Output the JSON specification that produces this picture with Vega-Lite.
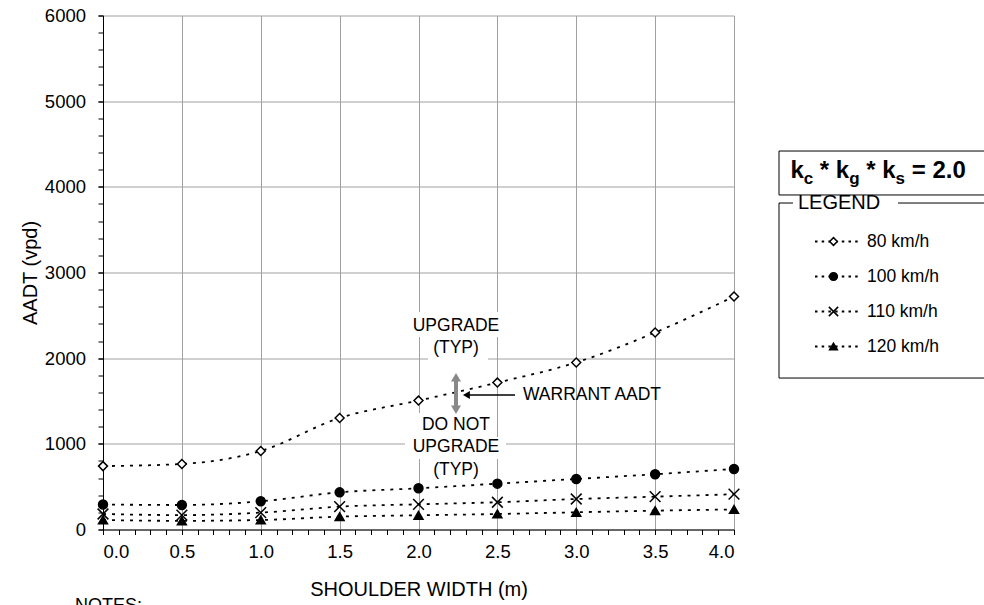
{
  "$schema": "https://vega.github.io/schema/vega-lite/v6.json",
  "width": 631,
  "height": 514,
  "autosize": {"type": "none"},
  "padding": {"left": 103, "top": 15.5, "right": 250, "bottom": 75.5},
  "background": "white",
  "config": {
    "view": {"stroke": null},
    "font": "Liberation Sans",
    "axis": {"labelColor": "black", "titleColor": "black", "tickColor": "black", "domainColor": "black", "gridColor": "#a0a0a0", "gridWidth": 1, "labelFont": "Liberation Sans", "titleFont": "Liberation Sans", "titleFontWeight": "normal"},
    "text": {"font": "Liberation Sans", "color": "black"}
  },
  "datasets": {
    "curves": [
      {"speed": "80 km/h", "width": 0.0, "aadt": 740}, {"speed": "80 km/h", "width": 0.5, "aadt": 765}, {"speed": "80 km/h", "width": 1.0, "aadt": 917},
      {"speed": "80 km/h", "width": 1.5, "aadt": 1302}, {"speed": "80 km/h", "width": 2.0, "aadt": 1505}, {"speed": "80 km/h", "width": 2.5, "aadt": 1715},
      {"speed": "80 km/h", "width": 3.0, "aadt": 1950}, {"speed": "80 km/h", "width": 3.5, "aadt": 2300}, {"speed": "80 km/h", "width": 4.0, "aadt": 2720},
      {"speed": "100 km/h", "width": 0.0, "aadt": 292}, {"speed": "100 km/h", "width": 0.5, "aadt": 286}, {"speed": "100 km/h", "width": 1.0, "aadt": 329},
      {"speed": "100 km/h", "width": 1.5, "aadt": 434}, {"speed": "100 km/h", "width": 2.0, "aadt": 481}, {"speed": "100 km/h", "width": 2.5, "aadt": 535},
      {"speed": "100 km/h", "width": 3.0, "aadt": 590}, {"speed": "100 km/h", "width": 3.5, "aadt": 645}, {"speed": "100 km/h", "width": 4.0, "aadt": 707},
      {"speed": "110 km/h", "width": 0.0, "aadt": 181}, {"speed": "110 km/h", "width": 0.5, "aadt": 168}, {"speed": "110 km/h", "width": 1.0, "aadt": 197},
      {"speed": "110 km/h", "width": 1.5, "aadt": 267}, {"speed": "110 km/h", "width": 2.0, "aadt": 294}, {"speed": "110 km/h", "width": 2.5, "aadt": 318},
      {"speed": "110 km/h", "width": 3.0, "aadt": 356}, {"speed": "110 km/h", "width": 3.5, "aadt": 383}, {"speed": "110 km/h", "width": 4.0, "aadt": 412},
      {"speed": "120 km/h", "width": 0.0, "aadt": 111}, {"speed": "120 km/h", "width": 0.5, "aadt": 101}, {"speed": "120 km/h", "width": 1.0, "aadt": 111},
      {"speed": "120 km/h", "width": 1.5, "aadt": 150}, {"speed": "120 km/h", "width": 2.0, "aadt": 166}, {"speed": "120 km/h", "width": 2.5, "aadt": 181},
      {"speed": "120 km/h", "width": 3.0, "aadt": 201}, {"speed": "120 km/h", "width": 3.5, "aadt": 220}, {"speed": "120 km/h", "width": 4.0, "aadt": 234}
    ],
    "speeds": [{"speed": "80 km/h"}, {"speed": "100 km/h"}, {"speed": "110 km/h"}, {"speed": "120 km/h"}]
  },
  "layer": [
    {
      "layer": [
        {
          "data": {"values": [{}]},
          "mark": {"type": "rect", "fill": "white", "strokeWidth": 0},
          "encoding": {
            "x": {"datum": 1.9461, "type": "quantitative", "axis": null}, "x2": {"datum": 2.5293},
            "y": {"datum": 2539, "type": "quantitative", "axis": null}, "y2": {"datum": 2247}
          }
        },
        {
          "data": {"values": [{}]},
          "mark": {"type": "rect", "fill": "white", "strokeWidth": 0},
          "encoding": {
            "x": {"datum": 2.0602, "type": "quantitative", "axis": null}, "x2": {"datum": 2.4406},
            "y": {"datum": 2247, "type": "quantitative", "axis": null}, "y2": {"datum": 1967}
          }
        },
        {
          "data": {"values": [{}]},
          "mark": {"type": "rect", "fill": "white", "strokeWidth": 0},
          "encoding": {
            "x": {"datum": 1.9968, "type": "quantitative", "axis": null}, "x2": {"datum": 2.4786},
            "y": {"datum": 1360, "type": "quantitative", "axis": null}, "y2": {"datum": 1080}
          }
        },
        {
          "data": {"values": [{}]},
          "mark": {"type": "rect", "fill": "white", "strokeWidth": 0},
          "encoding": {
            "x": {"datum": 1.9144, "type": "quantitative", "axis": null}, "x2": {"datum": 2.5547},
            "y": {"datum": 1080, "type": "quantitative", "axis": null}, "y2": {"datum": 823}
          }
        },
        {
          "data": {"values": [{}]},
          "mark": {"type": "rect", "fill": "white", "strokeWidth": 0},
          "encoding": {
            "x": {"datum": 2.0602, "type": "quantitative", "axis": null}, "x2": {"datum": 2.4406},
            "y": {"datum": 823, "type": "quantitative", "axis": null}, "y2": {"datum": 566}
          }
        },
        {
          "data": {"name": "curves"},
          "mark": {"type": "line", "interpolate": "monotone", "color": "black", "strokeWidth": 1.8, "strokeDash": [3, 6]},
          "encoding": {
            "x": {
              "field": "width", "type": "quantitative",
              "scale": {"domain": [0, 4], "nice": false, "zero": false},
              "axis": {"orient": "bottom", "values": [0, 0.5, 1, 1.5, 2, 2.5, 3, 3.5, 4], "format": ".1f", "grid": true, "labelFontSize": 18.5, "labelPadding": 8, "tickSize": 5, "title": "SHOULDER WIDTH (m)", "titleFontSize": 20, "titlePadding": 18}
            },
            "y": {
              "field": "aadt", "type": "quantitative",
              "scale": {"domain": [0, 6000], "nice": false},
              "axis": {"orient": "left", "values": [0, 1000, 2000, 3000, 4000, 5000, 6000], "format": "d", "grid": true, "labelFontSize": 18.5, "labelPadding": 12.5, "tickSize": 5, "title": "AADT (vpd)", "titleFontSize": 20, "titlePadding": 4}
            },
            "detail": {"field": "speed", "type": "nominal"}
          }
        },
        {
          "data": {"name": "curves"},
          "mark": {"type": "point", "stroke": "black", "strokeWidth": 1.5, "size": 80, "opacity": 1},
          "encoding": {
            "x": {
              "field": "width", "type": "quantitative",
              "axis": {"orient": "bottom", "values": [0, 0.1, 0.2, 0.3, 0.4, 0.5, 0.6, 0.7, 0.8, 0.9, 1, 1.1, 1.2, 1.3, 1.4, 1.5, 1.6, 1.7, 1.8, 1.9, 2, 2.1, 2.2, 2.3, 2.4, 2.5, 2.6, 2.7, 2.8, 2.9, 3, 3.1, 3.2, 3.3, 3.4, 3.5, 3.6, 3.7, 3.8, 3.9, 4], "labels": false, "grid": false, "domain": false, "tickSize": 5, "title": null}
            },
            "y": {
              "field": "aadt", "type": "quantitative",
              "axis": {"orient": "left", "values": [0, 200, 400, 600, 800, 1000, 1200, 1400, 1600, 1800, 2000, 2200, 2400, 2600, 2800, 3000, 3200, 3400, 3600, 3800, 4000, 4200, 4400, 4600, 4800, 5000, 5200, 5400, 5600, 5800, 6000], "labels": false, "grid": false, "domain": false, "tickSize": 5, "title": null}
            },
            "shape": {
              "field": "speed", "type": "nominal",
              "scale": {"domain": ["80 km/h", "100 km/h", "110 km/h", "120 km/h"], "range": ["diamond", "circle", "M-1.2,-1.2L1.2,1.2M-1.2,1.2L1.2,-1.2", "triangle-up"]},
              "legend": null
            },
            "fill": {
              "field": "speed", "type": "nominal",
              "scale": {"domain": ["80 km/h", "100 km/h", "110 km/h", "120 km/h"], "range": ["white", "black", "black", "black"]},
              "legend": null
            }
          }
        },
        {
          "data": {"values": [{}]},
          "mark": {"type": "rule", "color": "#888888", "strokeWidth": 4},
          "encoding": {
            "x": {"datum": 2.2377, "type": "quantitative", "axis": null},
            "y": {"datum": 1745, "type": "quantitative", "axis": null}, "y2": {"datum": 1430}
          }
        },
        {
          "data": {"values": [{}]},
          "mark": {"type": "point", "shape": "triangle-up", "filled": true, "color": "#888888", "size": 100, "opacity": 1},
          "encoding": {
            "x": {"datum": 2.2377, "type": "quantitative", "axis": null},
            "y": {"datum": 1777, "type": "quantitative", "axis": null}
          }
        },
        {
          "data": {"values": [{}]},
          "mark": {"type": "point", "shape": "triangle-down", "filled": true, "color": "#888888", "size": 100, "opacity": 1},
          "encoding": {
            "x": {"datum": 2.2377, "type": "quantitative", "axis": null},
            "y": {"datum": 1398, "type": "quantitative", "axis": null}
          }
        },
        {
          "data": {"values": [{}]},
          "mark": {"type": "rule", "color": "black", "strokeWidth": 1.5},
          "encoding": {
            "x": {"datum": 2.3074, "type": "quantitative", "axis": null}, "x2": {"datum": 2.6117},
            "y": {"datum": 1570, "type": "quantitative", "axis": null}
          }
        },
        {
          "data": {"values": [{}]},
          "mark": {"type": "point", "shape": "triangle-left", "filled": true, "color": "black", "size": 64, "opacity": 1},
          "encoding": {
            "x": {"datum": 2.3036, "type": "quantitative", "axis": null},
            "y": {"datum": 1570, "type": "quantitative", "axis": null}
          }
        },
        {
          "data": {"values": [{}]},
          "mark": {"type": "text", "text": "WARRANT AADT", "align": "left", "baseline": "middle", "fontSize": 17.5},
          "encoding": {
            "x": {"datum": 2.6624, "type": "quantitative", "axis": null},
            "y": {"datum": 1570, "type": "quantitative", "axis": null}
          }
        },
        {
          "data": {"values": [{}]},
          "mark": {"type": "text", "text": "UPGRADE", "align": "center", "baseline": "middle", "fontSize": 17.5},
          "encoding": {
            "x": {"datum": 2.2377, "type": "quantitative", "axis": null},
            "y": {"datum": 2375, "type": "quantitative", "axis": null}
          }
        },
        {
          "data": {"values": [{}]},
          "mark": {"type": "text", "text": "(TYP)", "align": "center", "baseline": "middle", "fontSize": 17.5},
          "encoding": {
            "x": {"datum": 2.2377, "type": "quantitative", "axis": null},
            "y": {"datum": 2119, "type": "quantitative", "axis": null}
          }
        },
        {
          "data": {"values": [{}]},
          "mark": {"type": "text", "text": "DO NOT", "align": "center", "baseline": "middle", "fontSize": 17.5},
          "encoding": {
            "x": {"datum": 2.2377, "type": "quantitative", "axis": null},
            "y": {"datum": 1220, "type": "quantitative", "axis": null}
          }
        },
        {
          "data": {"values": [{}]},
          "mark": {"type": "text", "text": "UPGRADE", "align": "center", "baseline": "middle", "fontSize": 17.5},
          "encoding": {
            "x": {"datum": 2.2377, "type": "quantitative", "axis": null},
            "y": {"datum": 963, "type": "quantitative", "axis": null}
          }
        },
        {
          "data": {"values": [{}]},
          "mark": {"type": "text", "text": "(TYP)", "align": "center", "baseline": "middle", "fontSize": 17.5},
          "encoding": {
            "x": {"datum": 2.2377, "type": "quantitative", "axis": null},
            "y": {"datum": 694, "type": "quantitative", "axis": null}
          }
        },
        {
          "data": {"values": [{}]},
          "mark": {"type": "rect", "fill": "white", "stroke": "black", "strokeWidth": 1},
          "encoding": {
            "x": {"datum": 4.2853, "type": "quantitative", "axis": null}, "x2": {"datum": 5.9},
            "y": {"datum": 4418, "type": "quantitative", "axis": null}, "y2": {"datum": 3905}
          }
        },
        {
          "data": {"values": [{}]},
          "mark": {"type": "rect", "fill": "white", "fillOpacity": 0, "stroke": "black", "strokeWidth": 1, "strokeDash": [14, 105, 5000]},
          "encoding": {
            "x": {"datum": 4.2853, "type": "quantitative", "axis": null}, "x2": {"datum": 5.9},
            "y": {"datum": 3811, "type": "quantitative", "axis": null}, "y2": {"datum": 1768}
          }
        },
        {
          "data": {"values": [{}]},
          "mark": {"type": "text", "text": "LEGEND", "align": "left", "baseline": "middle", "fontSize": 20},
          "encoding": {
            "x": {"datum": 4.4057, "type": "quantitative", "axis": null},
            "y": {"datum": 3811, "type": "quantitative", "axis": null}
          }
        },
        {
          "data": {"values": [{}]},
          "mark": {"type": "text", "text": "k", "align": "left", "baseline": "alphabetic", "fontSize": 24, "fontWeight": "bold"},
          "encoding": {
            "x": {"datum": 4.3575, "type": "quantitative", "axis": null},
            "y": {"datum": 4103, "type": "quantitative", "axis": null}
          }
        },
        {
          "data": {"values": [{}]},
          "mark": {"type": "text", "text": "c", "align": "left", "baseline": "alphabetic", "fontSize": 17, "fontWeight": "bold"},
          "encoding": {
            "x": {"datum": 4.4418, "type": "quantitative", "axis": null},
            "y": {"datum": 4033, "type": "quantitative", "axis": null}
          }
        },
        {
          "data": {"values": [{}]},
          "mark": {"type": "text", "text": "*\u00a0k", "align": "left", "baseline": "alphabetic", "fontSize": 24, "fontWeight": "bold"},
          "encoding": {
            "x": {"datum": 4.5439, "type": "quantitative", "axis": null},
            "y": {"datum": 4103, "type": "quantitative", "axis": null}
          }
        },
        {
          "data": {"values": [{}]},
          "mark": {"type": "text", "text": "g", "align": "left", "baseline": "alphabetic", "fontSize": 17, "fontWeight": "bold"},
          "encoding": {
            "x": {"datum": 4.7303, "type": "quantitative", "axis": null},
            "y": {"datum": 4033, "type": "quantitative", "axis": null}
          }
        },
        {
          "data": {"values": [{}]},
          "mark": {"type": "text", "text": "*\u00a0k", "align": "left", "baseline": "alphabetic", "fontSize": 24, "fontWeight": "bold"},
          "encoding": {
            "x": {"datum": 4.8387, "type": "quantitative", "axis": null},
            "y": {"datum": 4103, "type": "quantitative", "axis": null}
          }
        },
        {
          "data": {"values": [{}]},
          "mark": {"type": "text", "text": "s", "align": "left", "baseline": "alphabetic", "fontSize": 17, "fontWeight": "bold"},
          "encoding": {
            "x": {"datum": 5.0244, "type": "quantitative", "axis": null},
            "y": {"datum": 4033, "type": "quantitative", "axis": null}
          }
        },
        {
          "data": {"values": [{}]},
          "mark": {"type": "text", "text": "=\u00a02.0", "align": "left", "baseline": "alphabetic", "fontSize": 24, "fontWeight": "bold"},
          "encoding": {
            "x": {"datum": 5.1265, "type": "quantitative", "axis": null},
            "y": {"datum": 4103, "type": "quantitative", "axis": null}
          }
        },
        {
          "data": {"values": [{}]},
          "mark": {"type": "text", "text": "NOTES:", "align": "left", "baseline": "top", "fontSize": 18},
          "encoding": {
            "x": {"datum": -0.1775, "type": "quantitative", "axis": null},
            "y": {"datum": -788, "type": "quantitative", "axis": null}
          }
        }
      ],
      "resolve": {"axis": {"x": "independent", "y": "independent"}}
    },
    {
      "data": {"name": "speeds"},
      "encoding": {
        "y": {
          "field": "speed", "type": "nominal", "axis": null,
          "scale": {"type": "point", "domain": ["80 km/h", "100 km/h", "110 km/h", "120 km/h"], "range": [226, 331], "padding": 0}
        }
      },
      "layer": [
        {
          "mark": {"type": "rule", "color": "black", "strokeWidth": 1.8, "strokeDash": [2.5, 4.2]},
          "encoding": {
            "x": {"datum": 4.5134, "type": "quantitative", "axis": null},
            "x2": {"datum": 4.8051}
          }
        },
        {
          "mark": {"type": "point", "stroke": "black", "strokeWidth": 1.5, "size": 60, "opacity": 1},
          "encoding": {
            "x": {"datum": 4.6307, "type": "quantitative", "axis": null},
            "shape": {"field": "speed", "type": "nominal", "legend": null},
            "fill": {"field": "speed", "type": "nominal", "legend": null}
          }
        },
        {
          "mark": {"type": "text", "align": "left", "baseline": "middle", "fontSize": 17.5},
          "encoding": {
            "x": {"datum": 4.8431, "type": "quantitative", "axis": null},
            "text": {"field": "speed", "type": "nominal"}
          }
        }
      ]
    }
  ],
  "resolve": {"scale": {"y": "independent"}, "axis": {"x": "independent", "y": "independent"}}
}
